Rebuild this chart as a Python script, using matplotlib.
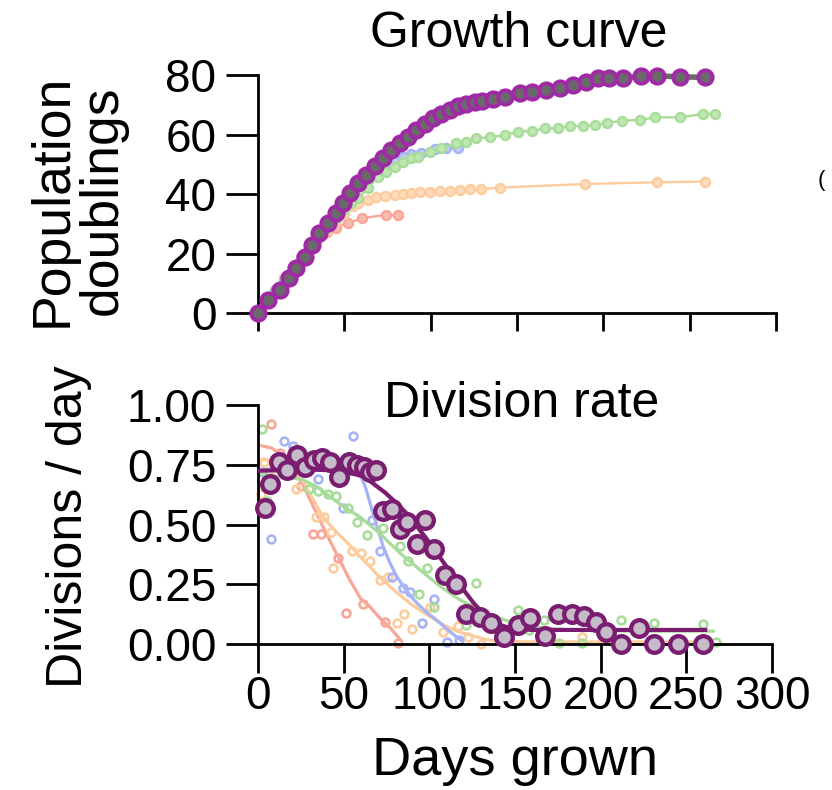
import matplotlib
matplotlib.use("Agg")
import matplotlib.pyplot as plt

plt.rcParams["font.family"] = ["Liberation Sans", "DejaVu Sans"]

# ---- Growth curve (population doublings vs days) ----
purple_days = [0, 6, 12.5, 18, 22, 27, 31, 35.5, 40.5, 45, 49, 53, 58, 62.5, 67.5, 72.5, 77, 82,
               87, 91.5, 96.5, 101.5, 106, 111, 116, 120.5, 125.5, 130, 136, 143, 152, 158.5,
               167, 175, 182.5, 190, 197, 203, 211.5, 222, 231, 244.5, 259]
purple_pd = [0, 4.3, 7.8, 11.7, 15.1, 19, 22.9, 26.9, 30.2, 33.6, 36.9, 40.3, 43.6, 46.4, 49.5,
             52, 54.8, 57.1, 59.3, 61.5, 63.6, 65.4, 67.0, 68.4, 69.5, 70.3, 70.9, 71.3, 71.8,
             72.5, 73.8, 74.4, 75, 75.7, 76.6, 77.7, 78.9, 78.9, 78.9, 79.7, 79.7, 79.4, 79.2]

green_days = [0, 5, 10, 15, 20, 25, 30, 35, 40, 45, 50, 54, 58, 63.7, 69.5, 74.3, 79.2, 84, 88.8,
              92.7, 99.4, 106.2, 114.9, 120.7, 126.4, 134.2, 143, 150.7, 158.5, 166.2, 173.9,
              180.7, 188.4, 195.2, 201.9, 210.6, 221.2, 229.9, 244.4, 257.9, 264.7]
green_pd = [0, 3.6, 7.3, 11, 14.6, 18.2, 21.8, 25.3, 28.7, 32, 35, 37, 38.8, 42, 45.9, 47.6, 49.2,
            50.9, 52, 52.6, 54.3, 55.4, 57.1, 57.6, 58.7, 59.1, 59.8, 61, 61.2, 62.1, 62.1, 62.9,
            62.9, 63.2, 63.8, 64.7, 64.9, 65.8, 65.8, 66.9, 66.9]

blue_days = [0, 5, 10, 15, 20, 25, 30, 35, 40, 45, 50, 55, 60, 65, 70, 75, 79.2, 84, 88.8, 94.6,
             102.3, 109.1, 115.8]
blue_pd = [0, 3.7, 7.5, 11.2, 15, 18.7, 22.4, 26, 29.6, 33.2, 36.7, 40, 43.2, 46, 48.3, 50, 51.5,
           52.6, 53.4, 53.9, 55, 55.4, 55.4]

orange_days = [0, 5, 10, 15, 20, 25, 30, 35, 40, 45, 50, 55, 57.9, 63.7, 68.5, 73.4, 79.2, 84,
               88.8, 93.6, 99.4, 105.2, 111, 116.8, 122.6, 129.3, 140.1, 189.3, 230.9, 258.8]
orange_pd = [0, 3.8, 7.6, 11.4, 15, 18.5, 21.8, 25, 28, 31, 33.5, 36, 36.9, 38, 38.9, 39.4, 39.7,
             40.1, 40.3, 40.6, 40.8, 41.1, 41.2, 41.4, 41.6, 41.7, 42.2, 43.4, 44, 44.2]

red_days = [0, 5, 10, 15, 20, 25, 30, 35, 40, 45, 52, 60.5, 74, 81]
red_pd = [0, 3.9, 7.9, 11.8, 15.5, 19, 22.2, 25, 27.2, 28.8, 30.2, 32, 33, 33]

# ---- Division rate (points) ----
pr_days = [4, 7, 12, 17, 22.5, 27.5, 32.5, 37.5, 42, 47.5, 53, 58, 62, 65.5, 69, 73, 78.5, 83,
           87, 92.8, 97.6, 103, 109.4, 115.3, 121.2, 129.3, 136, 143.8, 151.8, 158.5, 167.3,
           175.3, 183, 190, 197, 203, 212, 222.4, 231.2, 245.4, 259.6]
pr_rate = [0.57, 0.67, 0.76, 0.73, 0.79, 0.74, 0.77, 0.78, 0.76, 0.70, 0.76, 0.75, 0.74, 0.72,
           0.73, 0.555, 0.565, 0.48, 0.51, 0.42, 0.52, 0.40, 0.29, 0.25, 0.125, 0.115, 0.09,
           0.03, 0.08, 0.11, 0.035, 0.125, 0.125, 0.117, 0.092, 0.053, 0.0, 0.07, 0.0, 0.0, 0.0]

rr_days = [7.5, 13, 19, 25, 32, 37, 46.6, 51.6, 61.4, 74.1, 82]
rr_rate = [0.92, 0.80, 0.76, 0.66, 0.46, 0.46, 0.36, 0.13, 0.17, 0.094, 0.005]

or_days = [1.6, 3.5, 8, 22.2, 34, 38.8, 42.8, 43.7, 55, 60.4, 65.3, 71.2, 76, 81, 85, 90, 100.6,
           108, 116.5, 122.5, 130.4, 142.2, 189.3]
or_rate = [0.63, 0.76, 0.70, 0.65, 0.53, 0.53, 0.47, 0.32, 0.39, 0.38, 0.35, 0.27, 0.28, 0.088,
           0.125, 0.065, 0.157, 0.05, 0.078, 0.032, 0.0, 0.011, 0.029]

br_days = [2.5, 7.5, 15.3, 20.2, 26, 34.9, 49.6, 55.5, 66.3, 71.2, 78, 84.5, 88.8, 95.7, 102.5,
           110.4, 117.2]
br_rate = [0.72, 0.44, 0.85, 0.83, 0.72, 0.69, 0.57, 0.87, 0.52, 0.39, 0.28, 0.234, 0.22, 0.088,
           0.19, 0.011, 0.018]

gr_days = [2.5, 5, 13, 30, 35, 40.8, 45.7, 52.5, 57.5, 63.4, 73.1, 82.9, 87.8, 93.7, 98.6, 102.5,
           121.2, 127, 140, 152, 158, 167, 175.5, 189.3, 211.8, 231.4, 259.8, 267.6]
gr_rate = [0.90, 0.60, 0.74, 0.65, 0.64, 0.63, 0.62, 0.57, 0.51, 0.455, 0.485, 0.41, 0.35, 0.21,
           0.32, 0.157, 0.081, 0.255, 0.06, 0.143, 0.06, 0.10, 0.005, 0.005, 0.10, 0.09, 0.085,
           0.01]

# ---- Division rate (fitted curves) ----
pf_days = [0, 10, 20, 30, 40, 50, 57, 62, 67, 74, 81, 87, 93, 99, 104.5, 110, 116, 121, 126,
           131, 136, 141, 146, 152, 160, 180, 220, 261]
pf_rate = [0.725, 0.727, 0.73, 0.73, 0.728, 0.72, 0.71, 0.70, 0.673, 0.635, 0.589, 0.545, 0.491,
           0.435, 0.38, 0.325, 0.27, 0.218, 0.171, 0.133, 0.102, 0.082, 0.07, 0.064, 0.06, 0.06,
           0.06, 0.06]

bf_days = [2, 20, 40, 55, 59, 63, 67, 70, 73, 77, 81, 87, 93, 99, 104.5, 110, 116, 119]
bf_rate = [0.73, 0.74, 0.745, 0.74, 0.72, 0.65, 0.55, 0.48, 0.41, 0.34, 0.283, 0.22, 0.17, 0.13,
           0.10, 0.065, 0.03, 0.015]

gf_days = [2, 15, 26.5, 35, 42, 50, 59.4, 71, 83, 94.7, 106.5, 118, 130, 143.7, 155, 170, 190,
           220, 266]
gf_rate = [0.71, 0.70, 0.687, 0.655, 0.617, 0.575, 0.533, 0.464, 0.38, 0.31, 0.241, 0.185, 0.143,
           0.102, 0.08, 0.065, 0.058, 0.055, 0.055]

of_days = [2, 10, 18, 25, 31, 37.3, 41.8, 47, 53.5, 59, 65.3, 71, 77, 83, 88.8, 95, 100.6, 106,
           112.4, 118, 124, 132, 140, 160, 200, 260]
of_rate = [0.77, 0.77, 0.75, 0.70, 0.62, 0.54, 0.50, 0.46, 0.415, 0.37, 0.324, 0.28, 0.241, 0.205,
           0.171, 0.14, 0.115, 0.09, 0.067, 0.05, 0.039, 0.022, 0.012, 0.01, 0.01, 0.01]

rf_days = [2, 8, 14, 20, 26, 32, 38, 45, 53.5, 60, 65.3, 71, 77, 83]
rf_rate = [0.83, 0.82, 0.79, 0.74, 0.67, 0.58, 0.49, 0.39, 0.27, 0.19, 0.157, 0.11, 0.07, 0.02]

x_ticks = [0, 50, 100, 150, 200, 250, 300]
pd_ticks = [0, 20, 40, 60, 80]
rate_ticks = [0.0, 0.25, 0.5, 0.75, 1.0]

# colours
C_RED, C_RED_F = "#f9a696", "#fbbcb0"
C_ORA, C_ORA_F = "#fdcc9e", "#fedbbb"
C_BLU, C_BLU_F = "#a6b3f6", "#c0c9f8"
C_GRN, C_GRN_F = "#a7dc99", "#bfe6b3"
C_MAG = "#a02aa6"
C_GRAY = "#6a6a6a"
C_PUR = "#7a1d70"
C_PUR_F = "#c6bbc9"

TICK_FS = 33

fig = plt.figure(figsize=(8.32, 7.9), dpi=100)
ax1 = fig.add_axes([258 / 832, 1 - 313.3 / 790, 518 / 832, 238.3 / 790])
ax2 = fig.add_axes([258 / 832, 1 - 644.3 / 790, 514 / 832, 239.3 / 790])


def style(ax, xlen):
    for s in ("top", "right"):
        ax.spines[s].set_visible(False)
    for s in ("left", "bottom"):
        ax.spines[s].set_linewidth(2)
    ax.tick_params(axis="y", direction="out", length=23, width=2, labelsize=TICK_FS, pad=7)
    ax.tick_params(axis="x", direction="out", length=xlen, width=2, labelsize=TICK_FS, pad=1)


# ---- top panel ----
small = dict(marker="o", ms=6.5, mew=1.7, lw=1.7, clip_on=False)
ax1.plot(red_days, red_pd, color=C_RED, mfc=C_RED_F, mec=C_RED, **small)
ax1.plot(orange_days, orange_pd, color=C_ORA, mfc=C_ORA_F, mec=C_ORA, **small)
ax1.plot(blue_days, blue_pd, color=C_BLU, mfc=C_BLU_F, mec=C_BLU, **small)
ax1.plot(green_days, green_pd, color=C_GRN, mfc=C_GRN_F, mec=C_GRN, **small)
ax1.plot(purple_days, purple_pd, color=C_GRAY, lw=4, marker="o", ms=10.3, mew=2.8,
         mfc=C_GRAY, mec=C_MAG, clip_on=False, zorder=5)

ax1.set_xlim(0, 300)
ax1.set_ylim(0, 80)
ax1.set_xticks(x_ticks)
ax1.set_xticklabels([])
ax1.set_yticks(pd_ticks)
style(ax1, 13)
ax1.text(0.504, 1.119, "Growth curve", transform=ax1.transAxes, ha="center", va="baseline",
         fontsize=36)
ax1.set_ylabel("Population\ndoublings", fontsize=38.5, linespacing=1.0, va="bottom")
ax1.yaxis.set_label_coords(128 / 832, 1 - 200 / 790, transform=fig.transFigure)

# ---- bottom panel ----
pts = dict(ls="none", marker="o", ms=5.6, mew=1.9, mfc="none", clip_on=False)
fit = dict(lw=2.3, solid_capstyle="round")
for d, r, fd, fr, c in [(rr_days, rr_rate, rf_days, rf_rate, C_RED),
                        (or_days, or_rate, of_days, of_rate, C_ORA),
                        (br_days, br_rate, bf_days, bf_rate, C_BLU),
                        (gr_days, gr_rate, gf_days, gf_rate, C_GRN)]:
    ax2.plot(d, r, mec=c, **pts)
    ax2.plot(fd, fr, color=c, **fit)

ax2.plot(pf_days, pf_rate, color=C_PUR, lw=3, zorder=4)
ax2.plot(pr_days, pr_rate, ls="none", marker="o", ms=12, mew=3.1, mfc=C_PUR_F, mec=C_PUR,
         clip_on=False, zorder=5)

ax2.set_xlim(0, 300)
ax2.set_ylim(0, 1.0)
ax2.set_xticks(x_ticks)
ax2.set_yticks(rate_ticks)
ax2.set_yticklabels([f"{v:.2f}" for v in rate_ticks])
style(ax2, 21)
ax2.text(0.512, 0.951, "Division rate", transform=ax2.transAxes, ha="center", va="baseline",
         fontsize=36)
ax2.set_ylabel("Divisions / day", fontsize=36, va="bottom")
ax2.yaxis.set_label_coords(92 / 832, 1 - 527 / 790, transform=fig.transFigure)
ax2.set_xlabel("Days grown", fontsize=39, va="baseline")
ax2.xaxis.set_label_coords(515 / 832, 1 - 775 / 790, transform=fig.transFigure)

# clipped legend edge at the right border
fig.text(818 / 832, 1 - 186 / 790, "(", fontsize=16, ha="left", va="baseline")

fig.savefig("out.png", dpi=100)
